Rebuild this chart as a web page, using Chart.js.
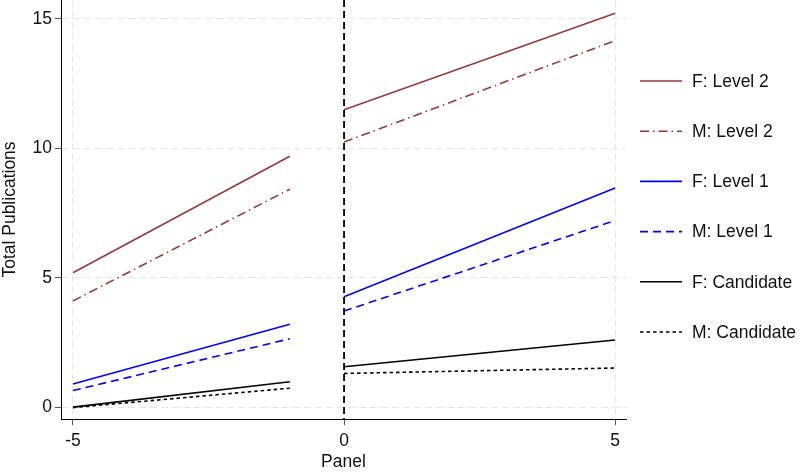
<!DOCTYPE html>
<html>
<head>
<meta charset="utf-8">
<script src="https://cdn.jsdelivr.net/npm/chart.js@4"></script>
<style>
  html, body { margin: 0; padding: 0; background: #fff; }
  #wrap { width: 800px; height: 472px; }
</style>
</head>
<body>
<div id="wrap"><canvas id="chart" width="800" height="472"></canvas></div>
<script>
// panel positions of the two fitted segments (before / after)
const panelBefore = [-5, -1];
const panelAfter = [0, 5];

// predicted total publications at each end of each segment
const fLevel2 = [5.19, 9.69, 11.49, 15.22];
const mLevel2 = [4.10, 8.42, 10.24, 14.16];
const fLevel1 = [0.89, 3.20, 4.26, 8.47];
const mLevel1 = [0.64, 2.64, 3.71, 7.21];
const fCandidate = [0.00, 0.98, 1.56, 2.59];
const mCandidate = [-0.02, 0.73, 1.30, 1.51];

const xTicks = [-5, 0, 5];
const yTicks = [0, 5, 10, 15];

const FONT = "'Liberation Sans', Arial, sans-serif";
const FS = 17.5;
const maroon = '#923b3b';
const blue = '#0000ff';

// two segments with a gap between them
function segs(vals) {
  return [
    { x: panelBefore[0], y: vals[0] },
    { x: panelBefore[1], y: vals[1] },
    { x: (panelBefore[1] + panelAfter[0]) / 2, y: null },
    { x: panelAfter[0], y: vals[2] },
    { x: panelAfter[1], y: vals[3] },
  ];
}

function series(label, vals, color, dash) {
  return {
    label: label,
    data: segs(vals),
    borderColor: color,
    backgroundColor: color,
    borderDash: dash,
    borderWidth: 1.6,
    pointRadius: 0,
    spanGaps: false,
    tension: 0,
  };
}

const datasets = [
  series('F: Level 2', fLevel2, maroon, []),
  series('M: Level 2', mLevel2, maroon, [9, 4, 1.5, 4]),
  series('F: Level 1', fLevel1, blue, []),
  series('M: Level 1', mLevel1, blue, [8, 5]),
  series('F: Candidate', fCandidate, '#000', []),
  series('M: Candidate', mCandidate, '#000', [3.5, 3]),
];

// vertical dashed line at panel 0
const zeroLine = {
  id: 'zeroLine',
  afterDatasetsDraw(chart) {
    const { ctx, chartArea, scales } = chart;
    const x = scales.x.getPixelForValue(0);
    ctx.save();
    ctx.strokeStyle = '#000';
    ctx.lineWidth = 1.8;
    ctx.setLineDash([7, 4]);
    ctx.beginPath();
    ctx.moveTo(x, chartArea.top);
    ctx.lineTo(x, chartArea.bottom);
    ctx.stroke();
    ctx.restore();
  }
};

// legend at the right, stata-like spacing
const sideLegend = {
  id: 'sideLegend',
  afterDraw(chart) {
    const { ctx, chartArea } = chart;
    const step = 50.2;
    const n = chart.data.datasets.length;
    const y0 = (chartArea.top + chartArea.bottom) / 2 - step * (n - 1) / 2 - 3;
    const x0 = chartArea.right + 14;
    ctx.save();
    chart.data.datasets.forEach((ds, i) => {
      const y = y0 + i * step;
      ctx.strokeStyle = ds.borderColor;
      ctx.lineWidth = ds.borderWidth;
      ctx.setLineDash(ds.borderDash);
      ctx.beginPath();
      ctx.moveTo(x0, y);
      ctx.lineTo(x0 + 42, y);
      ctx.stroke();
      ctx.setLineDash([]);
      ctx.fillStyle = '#111';
      ctx.font = FS + 'px ' + FONT;
      ctx.textBaseline = 'middle';
      ctx.textAlign = 'left';
      ctx.fillText(ds.label, x0 + 52, y + 1);
    });
    ctx.restore();
  }
};

new Chart(document.getElementById('chart').getContext('2d'), {
  type: 'line',
  data: { datasets: datasets },
  options: {
    responsive: false,
    animation: false,
    layout: { padding: { top: 0, right: 174, left: 0, bottom: 0 } },
    plugins: {
      legend: { display: false },
      tooltip: { enabled: false },
    },
    scales: {
      x: {
        type: 'linear',
        min: -5.22,
        max: 5.2,
        afterBuildTicks: s => { s.ticks = xTicks.map(v => ({ value: v })); },
        afterFit: s => { s.height = 53; s.paddingLeft = 0; s.paddingRight = 0; },
        ticks: { color: '#111', font: { family: FONT, size: FS }, padding: 6, maxRotation: 0 },
        grid: { color: '#e6e6e6', tickColor: '#555', tickLength: 6, lineWidth: 1 },
        border: { color: '#000', width: 1, dash: [7, 4] },
        title: { display: true, text: 'Panel', color: '#111', font: { family: FONT, size: FS }, padding: { top: 0, bottom: -1 } },
      },
      y: {
        type: 'linear',
        min: -0.46,
        max: 15.73,
        afterBuildTicks: s => { s.ticks = yTicks.map(v => ({ value: v })); },
        afterFit: s => { s.width = 61; s.paddingTop = 0; s.paddingBottom = 0; },
        ticks: { color: '#111', font: { family: FONT, size: FS }, padding: 3 },
        grid: { color: '#e6e6e6', tickColor: '#555', tickLength: 6, lineWidth: 1 },
        border: { color: '#000', width: 1, dash: [7, 4] },
        title: { display: true, text: 'Total Publications', color: '#111', font: { family: FONT, size: FS }, padding: { top: 0, bottom: 2 } },
      },
    },
  },
  plugins: [zeroLine, sideLegend],
});
</script>
</body>
</html>
